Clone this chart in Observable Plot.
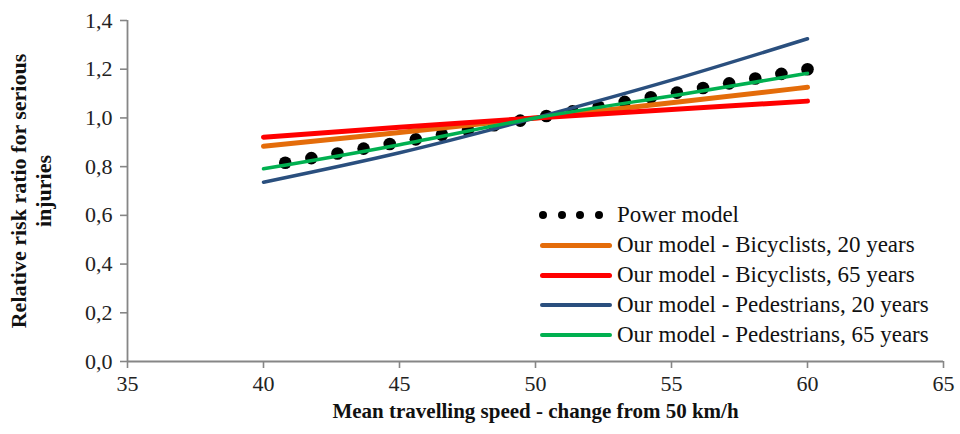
<!DOCTYPE html>
<html>
<head>
<meta charset="utf-8">
<script src="https://cdn.jsdelivr.net/npm/d3@7"></script>
<script src="https://cdn.jsdelivr.net/npm/@observablehq/plot@0.6"></script>
<style>
  body { margin: 0; background: #fff; }
  #wrap { position: relative; width: 960px; height: 434px; font-family: 'Liberation Serif'; }
  #wrap svg, #wrap svg text { font-family: 'Liberation Serif' !important; }
  #wrap svg [aria-label$="tick label"], #wrap svg [aria-label$="tick label"] text { font-size: 22px !important; }
  #legend { position: absolute; left: 536px; top: 200px; font-size: 23px; color: #111; font-family: 'Liberation Serif'; }
  .row { display: flex; align-items: center; height: 30px; font-family: 'Liberation Serif'; white-space: nowrap; }
  .sym { width: 76px; height: 30px; position: relative; margin-right: 5px; flex: none; }
  .line { position: absolute; left: 4px; right: 0; top: 50%; border-radius: 3px; }
  .dot { position: absolute; top: 50%; width: 8px; height: 8px; margin-top: -4px; border-radius: 50%; background: #000; }
</style>
</head>
<body>
<div id="wrap"></div>
<script>
// Power model points
const powerSpeed = [40.8, 41.76, 42.72, 43.68, 44.64, 45.6, 46.56, 47.52, 48.48, 49.44, 50.4, 51.36, 52.32, 53.28, 54.24, 55.2, 56.16, 57.12, 58.08, 59.04, 60.0];
const powerValue = [0.816, 0.835, 0.854, 0.874, 0.893, 0.912, 0.931, 0.950, 0.970, 0.989, 1.008, 1.027, 1.046, 1.066, 1.085, 1.104, 1.123, 1.142, 1.162, 1.181, 1.200];

// Our model curves
const lineSpeed = [40, 45, 50, 55, 60];
const bicyclists20 = [0.884, 0.940, 1.000, 1.062, 1.126];
const bicyclists65 = [0.921, 0.962, 1.000, 1.035, 1.069];
const pedestrians20 = [0.736, 0.857, 1.000, 1.155, 1.325];
const pedestrians65 = [0.791, 0.890, 1.000, 1.090, 1.183];

const seriesNames = [
  "Power model",
  "Our model - Bicyclists, 20 years",
  "Our model - Bicyclists, 65 years",
  "Our model - Pedestrians, 20 years",
  "Our model - Pedestrians, 65 years"
];
const seriesColors = ["#000000", "#E46C0A", "#FF0000", "#2A4F7E", "#00B050"];
const seriesWidths = [0, 5, 5, 3.5, 3.5];

const xTicks = [35, 40, 45, 50, 55, 60, 65];
const yTicks = [0, 0.2, 0.4, 0.6, 0.8, 1.0, 1.2, 1.4];
const xTitle = "Mean travelling speed - change from 50 km/h";
const yTitle = "Relative risk ratio for serious\ninjuries";

const points = powerSpeed.map((s, i) => ({speed: s, value: powerValue[i]}));
const lineSeries = [bicyclists20, bicyclists65, pedestrians20, pedestrians65].map((vals, k) =>
  lineSpeed.map((s, i) => ({speed: s, value: vals[i], k: k + 1})));

const axisColor = "#868686";
const fmt = d => d3.format(".1f")(d).replace(".", ",");
const FONT = "Liberation Serif";

const chart = Plot.plot({
  width: 960,
  height: 434,
  marginLeft: 127,
  marginRight: 17,
  marginTop: 20,
  marginBottom: 73,
  style: {fontFamily: FONT, fontSize: "22px", color: "#222", background: "white"},
  x: {domain: [35, 65]},
  y: {domain: [0, 1.4]},
  marks: [
    Plot.axisX({ticks: xTicks, tickSize: 7, tickPadding: 7, stroke: axisColor, strokeWidth: 1.6, label: null, fill: "#222", fontFamily: FONT, fontSize: 22}),
    Plot.axisY({ticks: yTicks, tickSize: 7, tickPadding: 8, tickFormat: fmt, stroke: axisColor, strokeWidth: 1.6, label: null, fill: "#222", fontFamily: FONT, fontSize: 22}),
    Plot.ruleY([0], {stroke: axisColor, strokeWidth: 1.8}),
    Plot.ruleX([35], {stroke: axisColor, strokeWidth: 1.8}),
    Plot.dot(points, {x: "speed", y: "value", r: 6.3, fill: "#000", stroke: "none"}),
    ...lineSeries.map(data => Plot.line(data, {
      x: "speed", y: "value", curve: "natural",
      stroke: seriesColors[data[0].k], strokeWidth: seriesWidths[data[0].k], strokeLinecap: "round"
    })),
    Plot.text([xTitle], {frameAnchor: "bottom", lineAnchor: "middle", dy: 50, fontWeight: "bold", fontSize: 21, fill: "#111", fontFamily: FONT}),
    Plot.text([yTitle], {frameAnchor: "left", textAnchor: "middle", dx: -97, rotate: -90, lineHeight: 1.15, fontWeight: "bold", fontSize: 22, fill: "#111", fontFamily: FONT})
  ]
});

const wrap = document.getElementById("wrap");
wrap.appendChild(chart);

// Legend overlay
const legend = document.createElement("div");
legend.id = "legend";
seriesNames.forEach((name, k) => {
  const row = document.createElement("div");
  row.className = "row";
  const sym = document.createElement("div");
  sym.className = "sym";
  if (k === 0) {
    [3, 21.5, 40, 58.5].forEach(x => {
      const d = document.createElement("div");
      d.className = "dot";
      d.style.left = x + "px";
      sym.appendChild(d);
    });
  } else {
    const l = document.createElement("div");
    l.className = "line";
    l.style.height = seriesWidths[k] + "px";
    l.style.marginTop = (-seriesWidths[k] / 2) + "px";
    l.style.background = seriesColors[k];
    sym.appendChild(l);
  }
  const t = document.createElement("span");
  t.textContent = name;
  row.appendChild(sym);
  row.appendChild(t);
  legend.appendChild(row);
});
wrap.appendChild(legend);
</script>
</body>
</html>
